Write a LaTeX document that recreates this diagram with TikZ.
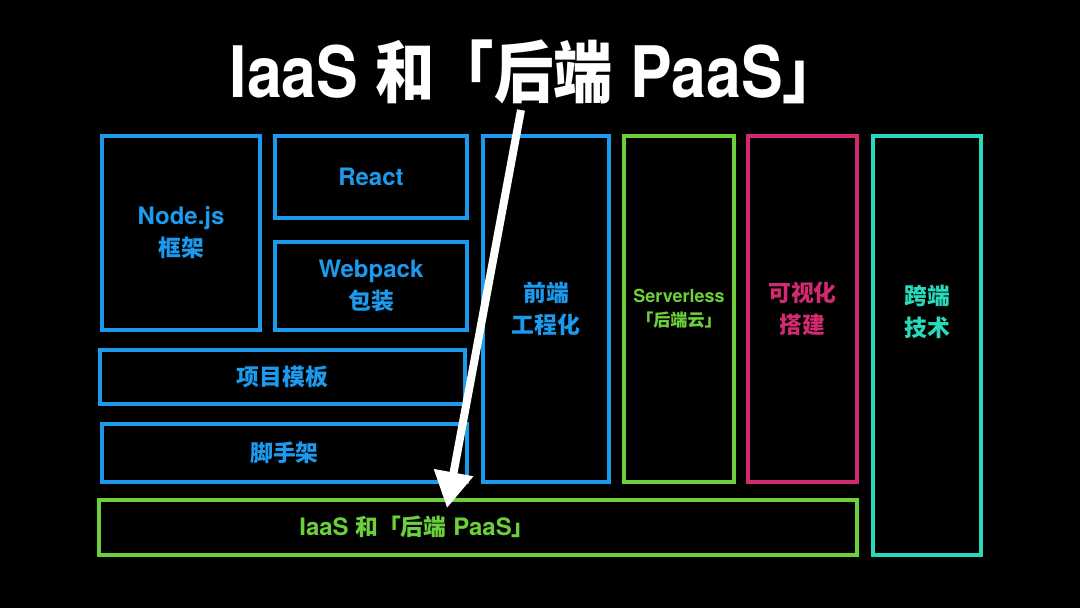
\documentclass[tikz,border=0pt]{standalone}
\usepackage{fontspec}
\usepackage{graphicx}
\setmainfont{TeX Gyre Heros}
\newfontfamily\cjk{Noto Sans CJK SC}[Scale=0.95]
\usetikzlibrary{arrows.meta}

\definecolor{skyblue}{RGB}{28,155,238}
\definecolor{grassgreen}{RGB}{108,208,58}
\definecolor{rosepink}{RGB}{210,42,112}
\definecolor{aquateal}{RGB}{40,218,188}

\tikzset{
	box/.style={draw=#1, line width=4pt, text=#1, align=center, inner sep=0pt,
		font=\bfseries\fontsize{24}{32}\selectfont},
	tag/.style={text=#1, align=center, font=\bfseries\fontsize{24}{32}\selectfont},
}

\begin{document}
\begin{tikzpicture}[x=1pt,y=-1pt]
	\fill[black] (0,0) rectangle (1080,608);
	\useasboundingbox (0,0) rectangle (1080,608);

	\node[text=white, font=\bfseries\fontsize{71}{80}\selectfont](title) at (536,72)
		{\scalebox{0.88}[1]{IaaS {\cjk 和「后端} PaaS{\cjk 」}}};

	% left block
	\node[box=skyblue, minimum width=158pt, minimum height=194pt](nodejs) at (181,233){Node.js\\{\cjk 框架}};
	\node[box=skyblue, minimum width=192pt, minimum height=82pt](react) at (371,177){React};
	\node[box=skyblue, minimum width=192pt, minimum height=88pt](webpack) at (371,286){Webpack\\{\cjk 包装}};
	\node[box=skyblue, minimum width=365pt, minimum height=54pt](tmpl) at (282.5,377){\cjk 项目模板};
	\node[box=skyblue, minimum width=365pt, minimum height=58pt](scaffold) at (284.5,453){\cjk 脚手架};

	% columns
	\node[box=skyblue, minimum width=126pt, minimum height=346pt](fe) at (546,309){\cjk 前端\\\cjk 工程化};
	\node[box=grassgreen, minimum width=110pt, minimum height=346pt,
		font=\bfseries\fontsize{18}{24}\selectfont](sls) at (679,309){Serverless\\{\cjk 「后端云」}};
	\node[box=rosepink, minimum width=109pt, minimum height=346pt](vis) at (802.5,309){\cjk 可视化\\\cjk 搭建};
	\node[box=aquateal, minimum width=108pt, minimum height=419pt](cross) at (927,345.5){};
	\node[tag=aquateal](crosstext) at (927,312){\cjk 跨端\\\cjk 技术};

	% base
	\node[box=grassgreen, minimum width=758pt, minimum height=55pt](iaas) at (478,527.5){};
	\node[tag=grassgreen](iaastext) at (417,527){IaaS {\cjk 和「后端} PaaS{\cjk 」}};

	\coordinate (start) at (521,110);
	\coordinate (tip) at (447,508);
	\draw[white, line width=8pt, -{Triangle[width=38pt,length=36pt]}] (start) -- (tip);
\end{tikzpicture}
\end{document}
